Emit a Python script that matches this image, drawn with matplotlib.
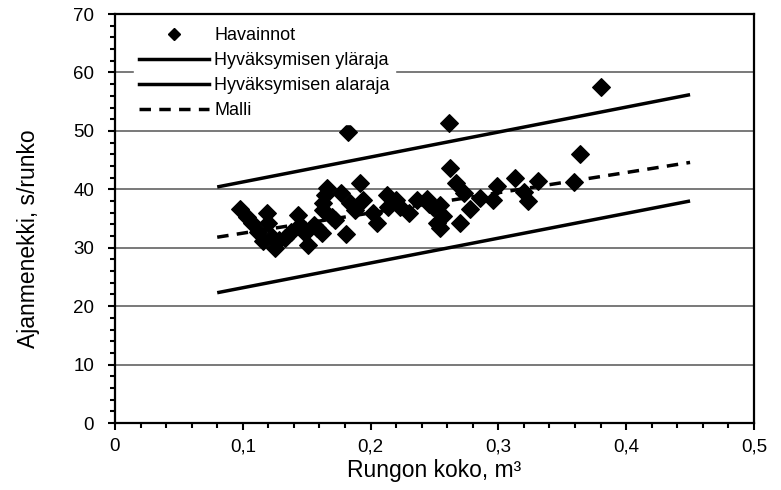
import matplotlib
matplotlib.use("Agg")
import matplotlib.pyplot as plt
from matplotlib.lines import Line2D
from matplotlib.ticker import MultipleLocator, FixedLocator

plt.rcParams["font.family"] = ["Liberation Sans", "DejaVu Sans"]

# havainnot: rungon koko (m3) ja ajanmenekki (s/runko)
koko = [0.098, 0.103, 0.107, 0.112, 0.116, 0.119, 0.120, 0.123, 0.125, 0.128,
        0.133, 0.138, 0.143, 0.145, 0.149, 0.151, 0.156, 0.158, 0.162, 0.163,
        0.163, 0.164, 0.166, 0.170, 0.172, 0.177, 0.181, 0.182, 0.184, 0.188,
        0.192, 0.194, 0.202, 0.205, 0.213, 0.214, 0.220, 0.223, 0.230, 0.236,
        0.244, 0.246, 0.249, 0.252, 0.254, 0.254, 0.257, 0.261, 0.262, 0.267,
        0.270, 0.273, 0.278, 0.286, 0.296, 0.299, 0.313, 0.320, 0.323, 0.331,
        0.359, 0.364, 0.380]
aika = [36.7, 35.3, 34.2, 32.7, 31.2, 35.9, 34.2, 31.9, 29.9, 31.4,
        31.6, 32.7, 35.6, 33.9, 32.5, 30.5, 33.9, 33.4, 32.5, 36.5,
        37.6, 39.0, 40.2, 35.3, 34.7, 39.3, 32.3, 49.8, 37.6, 36.5,
        41.0, 38.2, 35.9, 34.2, 39.0, 37.0, 38.2, 37.0, 35.9, 38.2,
        38.4, 37.5, 37.0, 34.2, 33.4, 37.3, 35.5, 51.4, 43.6, 41.0,
        34.2, 39.4, 36.7, 38.5, 38.1, 40.6, 42.0, 39.5, 38.0, 41.4,
        41.2, 46.0, 57.5]

# mallin ja hyvaksymisrajojen paatepisteet
raja_x = [0.08, 0.45]
ylaraja = [40.4, 56.2]
alaraja = [22.3, 38.0]
malli = [31.8, 44.6]

x_ticks = [0, 0.1, 0.2, 0.3, 0.4, 0.5]
x_labels = ["0", "0,1", "0,2", "0,3", "0,4", "0,5"]

fig = plt.figure(figsize=(7.81, 4.90), dpi=100)
ax = fig.add_axes([0.1472, 0.1367, 0.8182, 0.8347])

ax.scatter(koko, aika, marker="D", s=80, color="black", zorder=3)
ax.plot(raja_x, ylaraja, color="black", lw=2.5, zorder=4, solid_capstyle="butt")
ax.plot(raja_x, alaraja, color="black", lw=2.5, zorder=4, solid_capstyle="butt")
ax.plot(raja_x, malli, color="black", lw=2.5, zorder=4, dashes=(3.3, 2.4))

ax.set_xlim(0, 0.5)
ax.set_ylim(0, 70)
ax.xaxis.set_major_locator(FixedLocator(x_ticks))
ax.set_xticklabels(x_labels)
ax.xaxis.set_minor_locator(MultipleLocator(0.02))
ax.yaxis.set_major_locator(MultipleLocator(10))
ax.yaxis.set_minor_locator(MultipleLocator(2))
ax.tick_params(which="major", direction="out", length=5, width=1.5, labelsize=13.5)
ax.tick_params(axis="y", which="major", pad=10)
ax.tick_params(axis="x", which="major", pad=6)
ax.tick_params(which="minor", direction="out", length=3.5, width=1.5)
for s in ax.spines.values():
    s.set_linewidth(1.6)

ax.yaxis.grid(True, color="#555555", lw=1.1, zorder=1)
ax.set_axisbelow(True)

ax.set_xlabel("Rungon koko, m³", fontsize=16.5, labelpad=3)
ax.set_ylabel("Ajanmenekki, s/runko", fontsize=16.5)
ax.yaxis.set_label_coords(-0.117, 0.45)

handles = [
    Line2D([], [], ls="none", marker="D", ms=6.5, color="black"),
    Line2D([], [], color="black", lw=2.5),
    Line2D([], [], color="black", lw=2.5),
    Line2D([], [], color="black", lw=2.5, dashes=(3.3, 2.4)),
]
labels = ["Havainnot", "Hyväksymisen yläraja", "Hyväksymisen alaraja", "Malli"]
leg = ax.legend(handles, labels, loc="upper left", bbox_to_anchor=(0.015, 1.003),
                fontsize=13, frameon=True, fancybox=False, edgecolor="white",
                facecolor="white", framealpha=1, handlelength=3.85,
                handletextpad=0.33, labelspacing=0.44, borderpad=0.3)
leg.set_zorder(5)

fig.savefig("out.png", dpi=100)
